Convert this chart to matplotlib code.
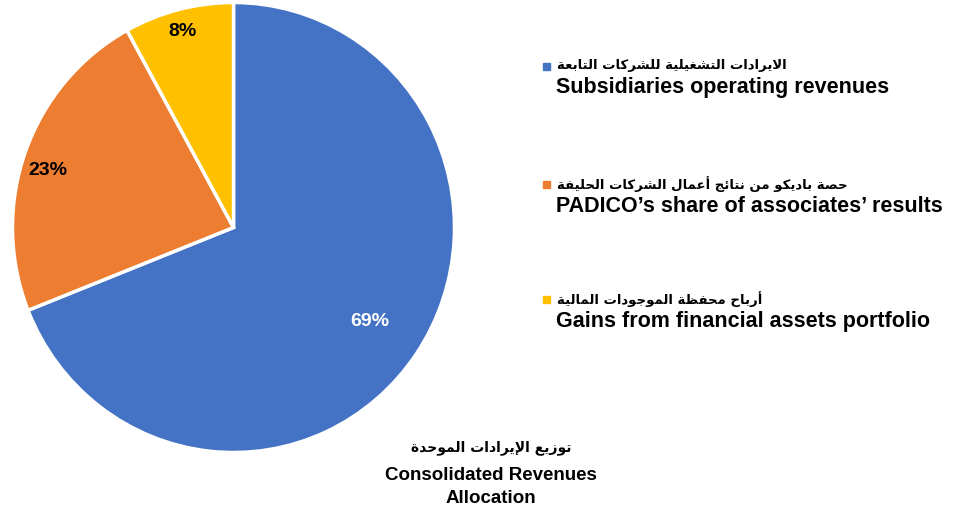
import matplotlib
matplotlib.use('Agg')
import matplotlib.pyplot as plt
from matplotlib.patches import Rectangle
import numpy as np

# data
shares = [69, 23, 8]
colors = ['#4472C4', '#ED7D31', '#FFC000']
labels_ar = ['الايرادات التشغيلية للشركات التابعة',
             'حصة باديكو من نتائج أعمال الشركات الحليفة',
             'أرباح محفظة الموجودات المالية']
labels_en = ['Subsidiaries operating revenues',
             'PADICO\u2019s share of associates\u2019 results',
             'Gains from financial assets portfolio']
title_ar = 'توزيع الإيرادات الموحدة'
title_en = ['Consolidated Revenues', 'Allocation']
pct_dist = [0.745, 0.877, 0.90]
pct_shift = [0, 3, 0.5]   # degrees
pct_colors = ['white', 'black', 'black']

# matplotlib has no arabic shaping -> presentation forms + reversed order
FORMS = {}
for ch, base in zip('آأؤإاةدذرزوى', [0xFE81, 0xFE83, 0xFE85, 0xFE87, 0xFE8D, 0xFE93,
                                    0xFEA9, 0xFEAB, 0xFEAD, 0xFEAF, 0xFEED, 0xFEEF]):
    FORMS[ch] = (base, 2)
for ch, base in zip('ئبتثجحخسشصضطظعغفقكلمنهي',
                    [0xFE89, 0xFE8F, 0xFE95, 0xFE99, 0xFE9D, 0xFEA1, 0xFEA5, 0xFEB1,
                     0xFEB5, 0xFEB9, 0xFEBD, 0xFEC1, 0xFEC5, 0xFEC9, 0xFECD, 0xFED1,
                     0xFED5, 0xFED9, 0xFEDD, 0xFEE1, 0xFEE5, 0xFEE9, 0xFEF1]):
    FORMS[ch] = (base, 4)
LAMALEF = {'آ': 0xFEF5, 'أ': 0xFEF7, 'إ': 0xFEF9, 'ا': 0xFEFB}


def shape(text):
    out = []
    for word in text.split(' '):
        # merge lam + alef
        units = []
        i = 0
        while i < len(word):
            if word[i] == 'ل' and i + 1 < len(word) and word[i + 1] in LAMALEF:
                units.append(('LA', LAMALEF[word[i + 1]]))
                i += 2
            else:
                units.append((word[i], None))
                i += 1
        res = ''
        for k, (u, lig) in enumerate(units):
            prev = units[k - 1][0] if k > 0 else None
            nxt = units[k + 1][0] if k + 1 < len(units) else None
            jp = prev in FORMS and FORMS[prev][1] == 4
            if u == 'LA':
                res += chr(lig + (1 if jp else 0))
                continue
            if u not in FORMS:
                res += u
                continue
            base, n = FORMS[u]
            jn = n == 4 and nxt is not None and (nxt == 'LA' or nxt in FORMS)
            idx = 3 if (jp and jn) else 1 if jp else 2 if jn else 0
            res += chr(base + idx)
        out.append(res)
    return ' '.join(out)[::-1]


W, H = 956, 516
fig = plt.figure(figsize=(W / 100, H / 100), dpi=100)
cx, cy, rx, ry = 233.5, 227.5, 221, 225
ax = fig.add_axes([(cx - rx) / W, (H - cy - ry) / H, 2 * rx / W, 2 * ry / H])
wedges, _ = ax.pie(shares, colors=colors, startangle=90, counterclock=False,
                   wedgeprops=dict(edgecolor='white', linewidth=2.5))
ax.set_xlim(-1, 1)
ax.set_ylim(-1, 1)
ax.set_aspect('auto')
ax.axis('off')

for w, v, d, s, c in zip(wedges, shares, pct_dist, pct_shift, pct_colors):
    a = np.deg2rad((w.theta1 + w.theta2) / 2 + s)
    ax.text(d * np.cos(a), d * np.sin(a), f'{v}%', ha='center', va='center',
            fontsize=14, fontweight='bold', color=c, family='Liberation Sans')

ar_y = [66, 184, 299]
en_y = [93, 212, 327]
for k in range(3):
    fig.patches.append(Rectangle((543 / W, 1 - (ar_y[k] + 4) / H), 7 / W, 7 / H,
                                 transform=fig.transFigure, color=colors[k]))
    fig.text(557 / W, 1 - ar_y[k] / H, shape(labels_ar[k]), ha='left', va='center',
             fontsize=9.5, fontweight='bold', family='DejaVu Sans')
    fig.text(556 / W, 1 - en_y[k] / H, labels_en[k], ha='left', va='baseline',
             fontsize=15.5, fontweight='bold', family='Liberation Sans')

fig.text(491 / W, 1 - 448 / H, shape(title_ar), ha='center', va='center',
         fontsize=10, fontweight='bold', family='DejaVu Sans')
for t, y in zip(title_en, [480, 503]):
    fig.text(491 / W, 1 - y / H, t, ha='center', va='baseline',
             fontsize=13.5, fontweight='bold', family='Liberation Sans')

fig.savefig('out.png', dpi=100)
